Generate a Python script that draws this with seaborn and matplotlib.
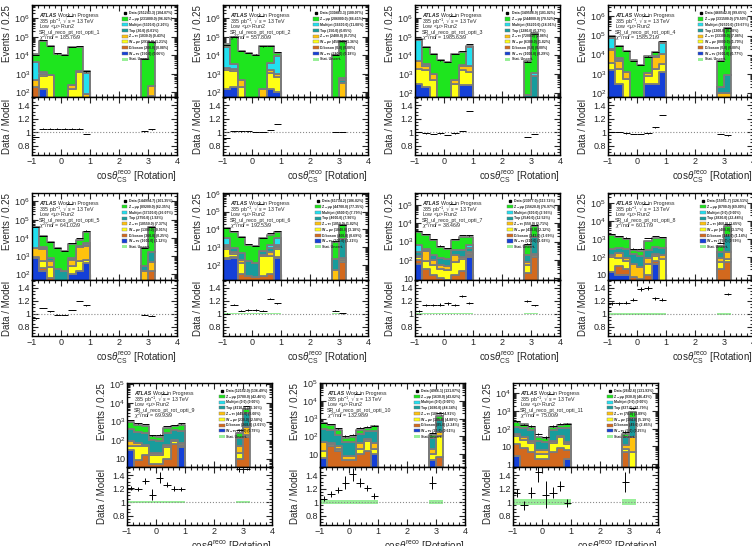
import numpy as np
import pandas as pd
import matplotlib
matplotlib.use('Agg')
import matplotlib.pyplot as plt
import seaborn as sns
from matplotlib.patches import Patch
from matplotlib.lines import Line2D
from matplotlib.ticker import LogLocator, NullFormatter, FuncFormatter, MultipleLocator, FixedLocator

sns.set_style('ticks')
plt.rcParams['font.family'] = ['Liberation Sans', 'DejaVu Sans']
plt.rcParams['mathtext.fontset'] = 'custom'
plt.rcParams['mathtext.rm'] = 'Liberation Sans'
plt.rcParams['mathtext.it'] = 'Liberation Sans:italic'
plt.rcParams['mathtext.bf'] = 'Liberation Sans:bold'

# ---- data ----
edges = [-1.0, -0.75, -0.5, -0.25, 0.0, 0.25, 0.5, 0.75, 1.0, 2.75, 3.0, 3.25]
centers = [-0.875, -0.625, -0.375, -0.125, 0.125, 0.375, 0.625, 0.875, 2.875, 3.125]
regions = ['SR_ul_reco_pt_rot_opti_%d' % k for k in range(1, 12)]
chi2 = ['185.76/9', '557.80/9', '1985.63/9', '1585.21/9', '641.02/9', '192.53/9',
        '38.46/9', '60.17/9', '69.93/9', '132.98/9', '75.00/9']

# stacked components, one row per region (stack bottom -> top: blue, brown, yellow, gold, teal, cyan, green)
blue = [
    [0, 150, 0, 0, 0, 0, 0, 0, 0, 0],
    [150, 180, 0, 0, 0, 0, 150, 100, 0, 0],
    [300, 200, 0, 0, 0, 0, 250, 250, 0, 0],
    [1500, 300, 0, 0, 0, 300, 300, 1200, 0, 0],
    [800, 150, 0, 0, 0, 100, 150, 400, 0, 0],
    [200, 250, 0, 0, 0, 0, 0, 250, 0, 0],
    [60, 0, 0, 0, 0, 0, 0, 150, 0, 0],
    [15, 10, 10, 0, 0, 0, 40, 0, 0, 0],
    [30, 0, 0, 0, 0, 0, 0, 40, 0, 0],
    [6, 0, 0, 0, 0, 0, 0, 10, 5, 2],
    [3, 0, 0, 0, 0, 0, 0, 2, 0, 0],
]
brown = [
    [200, 0, 0, 0, 0, 0, 0, 0, 0, 0],
    [0, 0, 0, 0, 0, 0, 0, 0, 0, 0],
    [0, 0, 0, 0, 0, 0, 0, 0, 0, 0],
    [0, 0, 0, 0, 0, 0, 0, 0, 0, 0],
    [70, 80, 60, 0, 0, 0, 0, 0, 0, 150],
    [50, 40, 30, 25, 20, 25, 30, 30, 0, 150],
    [40, 30, 15, 10, 8, 15, 25, 30, 20, 150],
    [0, 20, 10, 8, 6, 10, 20, 0, 20, 50],
    [0, 8, 15, 5, 5, 10, 60, 5, 10, 150],
    [0, 30, 15, 5, 5, 10, 15, 0, 0, 5],
    [10, 8, 5, 2, 2, 5, 8, 4, 5, 0],
]
yellow = [
    [0, 600, 900, 0, 0, 150, 1200, 0, 0, 60],
    [1500, 1200, 200, 0, 0, 0, 1000, 600, 0, 0],
    [1500, 1500, 500, 0, 0, 300, 1500, 1000, 0, 0],
    [2000, 1500, 500, 0, 0, 500, 1500, 2000, 0, 0],
    [0, 300, 200, 0, 0, 200, 400, 200, 0, 0],
    [500, 100, 100, 0, 0, 300, 300, 500, 0, 40],
    [50, 60, 40, 20, 20, 60, 80, 40, 30, 30],
    [80, 60, 40, 0, 0, 30, 50, 80, 30, 30],
    [20, 40, 30, 10, 10, 30, 30, 10, 10, 40],
    [10, 5, 5, 0, 0, 10, 40, 10, 5, 100],
    [25, 15, 10, 2, 2, 10, 25, 8, 2, 5],
]
gold = [
    [250, 250, 0, 0, 0, 100, 200, 80, 0, 150],
    [500, 400, 250, 0, 0, 150, 500, 300, 0, 300],
    [3000, 1000, 500, 0, 0, 200, 1000, 1500, 0, 0],
    [15000, 3000, 800, 0, 0, 300, 6000, 8000, 100, 100],
    [2000, 2000, 300, 0, 0, 300, 2500, 3000, 150, 300],
    [300, 150, 50, 0, 0, 50, 200, 200, 50, 50],
    [20, 200, 40, 20, 20, 100, 30, 50, 30, 40],
    [40, 80, 30, 30, 20, 50, 30, 40, 40, 100],
    [40, 20, 10, 5, 5, 15, 10, 10, 30, 300],
    [30, 10, 10, 3, 3, 20, 20, 20, 10, 60],
    [10, 10, 5, 2, 2, 5, 5, 4, 5, 30],
]
teal = [
    [0, 0, 0, 0, 0, 0, 0, 0, 30, 0],
    [0, 0, 0, 0, 0, 0, 0, 0, 0, 150],
    [100, 100, 0, 0, 0, 0, 100, 100, 80, 800],
    [150, 150, 0, 0, 0, 0, 0, 100, 100, 800],
    [0, 200, 200, 200, 150, 150, 200, 300, 150, 1200],
    [300, 300, 300, 150, 100, 200, 300, 300, 150, 2500],
    [100, 100, 100, 80, 60, 150, 200, 150, 100, 1500],
    [150, 150, 200, 100, 80, 150, 200, 200, 100, 1500],
    [300, 200, 200, 80, 70, 180, 250, 250, 80, 2500],
    [200, 180, 90, 40, 40, 100, 120, 150, 60, 700],
    [80, 80, 60, 15, 12, 60, 70, 90, 20, 350],
]
cyan = [
    [4000, 300, 0, 0, 0, 0, 0, 1000, 0, 0],
    [25000, 1500, 0, 0, 0, 0, 2000, 8000, 0, 100],
    [60000, 500, 0, 0, 0, 0, 300, 25000, 0, 400],
    [60000, 2000, 0, 0, 0, 0, 500, 30000, 0, 0],
    [35000, 500, 0, 0, 0, 0, 300, 1500, 0, 0],
    [2000, 0, 0, 0, 0, 0, 500, 2000, 0, 0],
    [400, 0, 0, 0, 0, 0, 0, 200, 0, 0],
    [0, 0, 0, 0, 0, 0, 0, 0, 0, 0],
    [0, 0, 0, 0, 0, 0, 0, 0, 0, 0],
    [0, 0, 0, 0, 0, 0, 0, 0, 0, 0],
    [0, 0, 0, 0, 0, 0, 0, 0, 0, 0],
]
green = [
    [7000, 60000, 30000, 12000, 10000, 28000, 28000, 300, 6500, 50000],
    [13000, 100000, 17000, 13000, 11000, 30000, 28000, 4000, 10000, 60000],
    [15000, 25000, 11000, 5500, 4500, 12000, 13000, 3000, 5000, 150000],
    [20000, 20000, 15000, 5000, 3000, 7000, 5000, 2000, 4500, 250000],
    [3000, 9000, 5000, 2500, 1800, 4000, 4500, 17000, 2400, 40000],
    [8000, 6000, 3000, 1200, 1000, 2500, 3700, 3500, 1800, 14000],
    [2800, 1900, 1000, 400, 270, 900, 1400, 1200, 450, 5300],
    [1300, 900, 700, 100, 100, 550, 800, 750, 200, 3300],
    [600, 400, 300, 60, 50, 220, 200, 350, 100, 1500],
    [300, 220, 120, 35, 40, 100, 100, 170, 45, 500],
    [110, 60, 45, 13, 12, 45, 45, 80, 20, 500],
]

# data / model ratio per bin
ratio = [
    [0.93, 1.05, 1.05, 1.05, 1.05, 1.05, 1.05, 0.97, 1.01, 1.04],
    [0.91, 1.01, 1.01, 1.01, 1.00, 1.00, 1.03, 1.12, 1.00, 1.00],
    [1.00, 0.98, 0.97, 0.98, 0.96, 0.98, 1.02, 1.31, 0.93, 0.97],
    [1.00, 1.00, 0.98, 0.97, 0.97, 0.98, 1.07, 1.25, 0.97, 0.95],
    [0.93, 1.09, 1.04, 0.99, 0.98, 1.06, 1.20, 1.13, 0.99, 0.97],
    [1.00, 1.14, 1.05, 1.06, 1.06, 1.05, 1.23, 1.16, 1.05, 1.01],
    [1.05, 1.14, 1.14, 1.14, 1.16, 1.14, 1.27, 1.17, 1.20, 1.13],
    [1.16, 1.16, 1.17, 1.22, 1.38, 1.40, 1.24, 1.22, 1.58, 1.31],
    [1.21, 1.19, 1.31, 1.11, 1.36, 1.26, 1.20, 1.20, 1.49, 1.49],
    [1.05, 1.12, 1.18, 1.29, 1.41, 1.29, 1.21, 1.09, 1.29, 1.58],
    [1.13, 0.95, 1.14, 1.45, 1.11, 1.14, 1.24, 0.99, 1.30, 1.58],
]
ratio_err = [
    [0.003, 0.003, 0.003, 0.003, 0.003, 0.003, 0.003, 0.003, 0.003, 0.003],
    [0.003, 0.003, 0.003, 0.003, 0.003, 0.003, 0.003, 0.003, 0.003, 0.003],
    [0.003, 0.003, 0.003, 0.003, 0.003, 0.003, 0.003, 0.003, 0.003, 0.003],
    [0.003, 0.003, 0.003, 0.003, 0.003, 0.003, 0.003, 0.003, 0.003, 0.003],
    [0.005, 0.005, 0.005, 0.005, 0.005, 0.005, 0.005, 0.005, 0.005, 0.005],
    [0.008, 0.008, 0.008, 0.01, 0.01, 0.008, 0.008, 0.008, 0.01, 0.008],
    [0.015, 0.015, 0.015, 0.02, 0.02, 0.015, 0.015, 0.015, 0.02, 0.01],
    [0.02, 0.02, 0.02, 0.03, 0.03, 0.03, 0.02, 0.02, 0.03, 0.015],
    [0.03, 0.03, 0.04, 0.08, 0.08, 0.04, 0.04, 0.03, 0.05, 0.02],
    [0.04, 0.04, 0.05, 0.09, 0.10, 0.06, 0.05, 0.04, 0.10, 0.03],
    [0.06, 0.07, 0.08, 0.15, 0.20, 0.08, 0.07, 0.06, 0.15, 0.04],
]
band = [0.003, 0.003, 0.003, 0.003, 0.005, 0.006, 0.008, 0.01, 0.02, 0.03, 0.04]
ylims = [(54, 5.4e6), (54, 5.4e6), (60, 5e6), (60, 4e6), (49, 2.9e6), (14, 1.1e6),
         (8, 4.4e5), (5.2, 3.5e5), (3.5, 1.2e5), (1.9, 1e5), (0.7, 3.7e4)]

# seaborn stacks the first hue level on top, so list top -> bottom
comp_names = ['Z→μμ', 'Multijet', 'Top', 'Z→ττ', 'W→μν', 'Diboson', 'W→τν']
comp_vals = [green, cyan, teal, gold, yellow, brown, blue]
comp_cols = ['#1ee51e', '#22e0f0', '#189c9c', '#ffc20e', '#ffff14', '#d2691e', '#1440d8']

# ---- layout (pixels) ----
W, H = 752, 546
panel_left = [32, 223, 415, 608, 32, 223, 415, 608, 127, 320, 513]
panel_top = [5, 5, 5, 5, 193, 193, 193, 193, 383, 383, 383]
main_h = [92, 92, 92, 92, 87, 87, 87, 87, 84, 84, 84]
ratio_h = [58, 58, 58, 58, 56, 56, 56, 56, 58, 58, 58]
pw = 145


def log_label(v, pos):
    if v <= 0:
        return ''
    e = int(round(np.log10(v)))
    if abs(v - 10.0 ** e) > 1e-6 * v:
        return ''
    if e == 0:
        return '1'
    if e == 1:
        return '10'
    return r'$10^{%d}$' % e


fig = plt.figure(figsize=(W / 100, H / 100), dpi=100)

for i in range(11):
    l, t, mh, rh = panel_left[i], panel_top[i], main_h[i], ratio_h[i]
    ax = fig.add_axes([l / W, 1 - (t + mh) / H, pw / W, mh / H])
    axr = fig.add_axes([l / W, 1 - (t + mh + rh) / H, pw / W, rh / H])

    rows = []
    for name, vals in zip(comp_names, comp_vals):
        for c, v in zip(centers, vals[i]):
            rows.append((c, v, name))
    df = pd.DataFrame(rows, columns=['x', 'w', 'comp'])

    ax.set_yscale('log')
    sns.histplot(data=df, x='x', weights='w', hue='comp', hue_order=comp_names,
                 palette=dict(zip(comp_names, comp_cols)), multiple='stack',
                 bins=edges, element='step', fill=True, alpha=1,
                 edgecolor='#7a7a7a', linewidth=1.3, legend=False, ax=ax)

    total = np.sum([np.array(v[i], dtype=float) for v in comp_vals], axis=0)
    data_n = total * np.array(ratio[i])
    ax.errorbar(centers, data_n, xerr=0.125, yerr=np.sqrt(data_n), fmt='none',
                ecolor='black', elinewidth=0.7, capsize=0, zorder=5)

    ax.set_xlim(-1, 4)
    ax.set_ylim(*ylims[i])
    ax.set_xlabel('')
    ax.yaxis.set_major_locator(LogLocator(base=10, numticks=15))
    ax.yaxis.set_minor_locator(LogLocator(base=10, subs=np.arange(2, 10), numticks=15))
    ax.yaxis.set_major_formatter(FuncFormatter(log_label))
    ax.yaxis.set_minor_formatter(NullFormatter())
    ax.xaxis.set_major_locator(MultipleLocator(1))
    ax.xaxis.set_minor_locator(MultipleLocator(0.2))
    ax.tick_params(which='both', direction='in', top=True, right=True,
                   labelbottom=False, width=0.8, labelsize=6.5, pad=1.5)
    ax.tick_params(which='major', length=4)
    ax.tick_params(which='minor', length=2)
    ax.set_ylabel('Events / 0.25', fontsize=7, loc='top')
    ax.yaxis.set_label_coords(-0.14, 1.0)

    # labels
    fs = 3.8
    ys = [1 - (10.5 + 5.6 * j) / mh for j in range(5)]
    atl = ax.text(0.05, ys[0], 'ATLAS', fontsize=fs, fontweight='bold', style='italic',
                  transform=ax.transAxes, va='center')
    ax.annotate('Work in Progress', xy=(1, 0.5), xycoords=atl, xytext=(1.5, 0),
                textcoords='offset points', fontsize=fs, va='center')
    ax.text(0.05, ys[1], r'335 pb$^{-1}$, $\sqrt{s}$ = 13 TeV', fontsize=fs,
            transform=ax.transAxes, va='center')
    ax.text(0.05, ys[2], r'Low <$\mu$> Run2', fontsize=fs, transform=ax.transAxes, va='center')
    ax.text(0.05, ys[3], regions[i], fontsize=fs, transform=ax.transAxes, va='center')
    ax.text(0.05, ys[4], r'$\chi^2$/ndf = ' + chi2[i], fontsize=fs,
            transform=ax.transAxes, va='center')

    handles = [Line2D([], [], color='black', marker='s', ls='none', markersize=1.5)]
    labels = ['Data (%.1f) (%.2f%%)' % (data_n.sum(), 100 * data_n.sum() / total.sum())]
    for name, vals, col in zip(comp_names, comp_vals, comp_cols):
        s = float(np.sum(vals[i]))
        handles.append(Patch(facecolor=col, edgecolor='#7a7a7a', linewidth=0.3))
        labels.append('%s (%.1f) (%.2f%%)' % (name, s, 100 * s / total.sum()))
    handles.append(Patch(facecolor='#99ee99', edgecolor='none'))
    labels.append('Stat. Uncert.')
    ax.legend(handles, labels, loc='upper right', bbox_to_anchor=(0.97, 0.93),
              prop={'size': 2.5, 'weight': 'bold'}, frameon=False, handlelength=1.5,
              handleheight=1.0, labelspacing=0.5, borderaxespad=0, borderpad=0,
              handletextpad=0.5)

    # ratio
    axr.bar(centers, [2 * band[i]] * len(centers), bottom=[1 - band[i]] * len(centers),
            width=0.25, color='#99ee99', linewidth=0, zorder=1)
    axr.axhline(1, color='#8a8a8a', ls=':', lw=0.8, zorder=2)
    axr.errorbar(centers, ratio[i], xerr=0.125, yerr=ratio_err[i], fmt='none',
                 ecolor='black', elinewidth=0.7, capsize=0, zorder=5)
    axr.set_xlim(-1, 4)
    axr.set_ylim(0.66, 1.52)
    axr.yaxis.set_major_locator(FixedLocator([0.8, 1.0, 1.2, 1.4]))
    axr.yaxis.set_major_formatter(FuncFormatter(lambda v, p: '%g' % v))
    axr.yaxis.set_minor_locator(MultipleLocator(0.05))
    axr.xaxis.set_major_locator(MultipleLocator(1))
    axr.xaxis.set_minor_locator(MultipleLocator(0.2))
    axr.tick_params(which='both', direction='in', top=True, right=True,
                    width=0.8, labelsize=6.5, pad=1.5)
    axr.tick_params(which='major', length=4)
    axr.tick_params(which='minor', length=2)
    axr.set_ylabel('Data / Model', fontsize=7)
    axr.yaxis.set_label_coords(-0.14, 0.5)
    axr.set_xlabel(r'cos$\theta^{\rm reco}_{\rm CS}$ [Rotation]', fontsize=7,
                   loc='right', labelpad=2)

    for a in (ax, axr):
        for sp in a.spines.values():
            sp.set_linewidth(1.0)
            sp.set_color('black')

fig.savefig('out.png', dpi=100)
